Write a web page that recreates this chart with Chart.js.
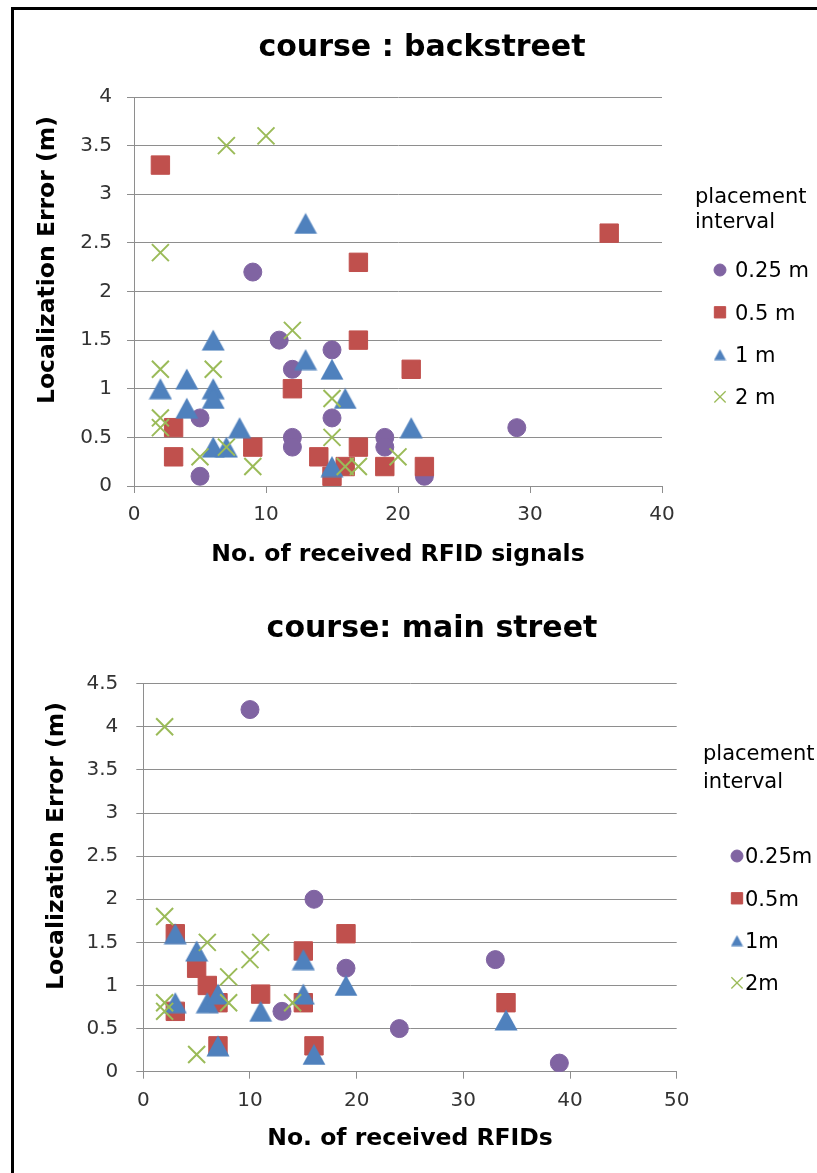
<!DOCTYPE html>
<html>
<head>
<meta charset="utf-8">
<script src="https://cdn.jsdelivr.net/npm/chart.js@4.4.1/dist/chart.umd.min.js"></script>
<style>
  html, body { margin: 0; padding: 0; background: #fff; }
  body { width: 817px; height: 1173px; position: relative; overflow: hidden; }
  #topChart { position: absolute; left: 0; top: 0; }
  #bottomChart { position: absolute; left: 0; top: 580px; }
  .frame { position: absolute; left: 11px; top: 7px; right: -10px; bottom: -10px;
           border-left: 3px solid #000; border-top: 3px solid #000; }
</style>
</head>
<body>
<canvas id="topChart" width="844" height="580"></canvas>
<canvas id="bottomChart" width="864" height="593"></canvas>
<div class="frame"></div>
<script>
// series labels
const seriesTop = ["0.25 m", "0.5 m", "1 m", "2 m"];
const seriesBottom = ["0.25m", "0.5m", "1m", "2m"];

// course : backstreet  (x = no. of received RFID signals, y = error in m)
const backX025 = [9, 5, 5, 11, 12, 12, 12, 15, 15, 19, 19, 29, 22];
const backY025 = [2.2, 0.7, 0.1, 1.5, 1.2, 0.5, 0.4, 1.4, 0.7, 0.5, 0.4, 0.6, 0.1];
const backX05 = [2, 17, 17, 12, 3, 3, 9, 14, 15, 16, 17, 19, 21, 36, 22];
const backY05 = [3.3, 2.3, 1.5, 1.0, 0.6, 0.3, 0.4, 0.3, 0.1, 0.2, 0.4, 0.2, 1.2, 2.6, 0.2];
const backX1 = [13, 6, 2, 4, 6, 6, 4, 8, 6, 7, 13, 15, 16, 15, 21];
const backY1 = [2.7, 1.5, 1.0, 1.1, 1.0, 0.9, 0.8, 0.6, 0.4, 0.4, 1.3, 1.2, 0.9, 0.2, 0.6];
const backX2 = [7, 10, 2, 12, 2, 6, 15, 2, 2, 5, 7, 9, 15, 16, 17, 20];
const backY2 = [3.5, 3.6, 2.4, 1.6, 1.2, 1.2, 0.9, 0.7, 0.6, 0.3, 0.4, 0.2, 0.5, 0.2, 0.2, 0.3];

// course: main street
const mainX025 = [10, 16, 19, 13, 24, 33, 39];
const mainY025 = [4.2, 2.0, 1.2, 0.7, 0.5, 1.3, 0.1];
const mainX05 = [3, 5, 6, 3, 7, 7, 11, 15, 15, 16, 19, 34];
const mainY05 = [1.6, 1.2, 1.0, 0.7, 0.8, 0.3, 0.9, 1.4, 0.8, 0.3, 1.6, 0.8];
const mainX1 = [3, 5, 6, 7, 3, 7, 11, 15, 15, 16, 19, 34];
const mainY1 = [1.6, 1.4, 0.8, 0.9, 0.8, 0.3, 0.7, 1.3, 0.9, 0.2, 1.0, 0.6];
const mainX2 = [2, 2, 6, 11, 10, 8, 8, 2, 2, 14, 5];
const mainY2 = [4.0, 1.8, 1.5, 1.5, 1.3, 1.1, 0.8, 0.8, 0.7, 0.8, 0.2];

// axis ticks
const backXTicks = { min: 0, max: 40, step: 10 };
const backYTicks = { min: 0, max: 4, step: 0.5 };
const mainXTicks = { min: 0, max: 50, step: 10 };
const mainYTicks = { min: 0, max: 4.5, step: 0.5 };

const colors = ['#8064A2', '#C0504D', '#4F81BD', '#9BBB59'];
const gridColor = '#8e8e8e';
const FONT = "'DejaVu Sans', sans-serif";

// excel style triangle: centred on its bounding box, about as tall as wide
function triangle(w, h, color) {
    const c = document.createElement('canvas');
    c.width = w; c.height = h;
    const g = c.getContext('2d');
    g.fillStyle = color;
    g.beginPath();
    g.moveTo(w / 2, 0.5);
    g.lineTo(w - 0.5, h - 0.5);
    g.lineTo(0.5, h - 0.5);
    g.closePath();
    g.fill();
    return c;
}

const styles = ['circle', 'rect', triangle(24, 22, colors[2]), 'crossRot'];
const legendStyles = ['circle', 'rect', triangle(13, 12, colors[2]), 'crossRot'];
const radii = [9, 13, 12, 12];
const legendRadii = [6, 8, 7, 8];

Chart.defaults.font.family = FONT;
Chart.defaults.color = '#333';

const pts = (xs, ys) => xs.map((x, i) => ({ x: x, y: ys[i] }));

function makeSets(labels, xs, ys) {
    return labels.map((label, i) => ({
        label: label,
        data: pts(xs[i], ys[i]),
        pointStyle: styles[i],
        pointRadius: radii[i],
        pointHoverRadius: radii[i],
        backgroundColor: colors[i],
        borderColor: colors[i],
        pointBorderWidth: i == 3 ? 2 : 1,
        showLine: false,
        order: 4 - i
    }));
}

// legend on the right, with a two line title
const sideLegend = {
    id: 'sideLegend',
    afterDraw(chart, args, o) {
        const ctx = chart.ctx;
        ctx.save();
        ctx.font = "21px " + FONT;
        ctx.fillStyle = '#000';
        ctx.textAlign = 'left';
        ctx.textBaseline = 'alphabetic';
        o.title.forEach((t, i) => ctx.fillText(t, o.titleX, o.titleBase + i * o.titleStep));
        chart.data.datasets.forEach((ds, i) => {
            const y = o.rowY + i * o.rowStep;
            ctx.fillStyle = ds.backgroundColor;
            ctx.strokeStyle = ds.borderColor;
            ctx.lineWidth = i == 3 ? 1.3 : 1;
            Chart.helpers.drawPoint(ctx, {
                pointStyle: legendStyles[i], radius: legendRadii[i], rotation: 0,
                borderWidth: i == 3 ? 1.3 : 1
            }, o.markerX, y);
            ctx.fillStyle = '#000';
            ctx.textBaseline = 'middle';
            ctx.fillText(ds.label, o.textX, y + 2);
        });
        ctx.restore();
    }
};

// chart title and rotated y axis title, placed where the original has them
const freeText = {
    id: 'freeText',
    afterDraw(chart, args, o) {
        const ctx = chart.ctx;
        o.items.forEach(t => {
            ctx.save();
            ctx.translate(t.x, t.y);
            if (t.rotate) ctx.rotate(t.rotate);
            ctx.font = t.font;
            ctx.fillStyle = '#000';
            ctx.textAlign = 'center';
            ctx.textBaseline = 'middle';
            ctx.fillText(t.text, 0, 0);
            ctx.restore();
        });
    }
};

function makeConfig(p) {
    return {
        type: 'scatter',
        data: { datasets: p.datasets },
        plugins: [sideLegend, freeText],
        options: {
            responsive: false,
            animation: false,
            layout: { padding: { left: 0, top: p.padTop, right: p.padRight, bottom: 0 } },
            plugins: {
                legend: { display: false },
                tooltip: { enabled: false },
                title: { display: false },
                sideLegend: p.legend,
                freeText: { items: [
                    { text: p.title, x: p.titleX, y: p.titleY, font: "bold 30px " + FONT },
                    { text: 'Localization Error (m)', x: p.yTitleX, y: p.yTitleY,
                      font: "bold 23.5px " + FONT, rotate: -Math.PI / 2 }
                ] }
            },
            scales: {
                x: {
                    type: 'linear',
                    min: p.xTicks.min, max: p.xTicks.max,
                    afterFit: s => { s.height = p.xHeight; },
                    ticks: { stepSize: p.xTicks.step, font: { size: 20 }, padding: p.xTickPad, color: '#333' },
                    grid: { drawOnChartArea: false, drawTicks: true, tickLength: 7, color: gridColor },
                    border: { color: gridColor },
                    title: {
                        display: true, text: p.xTitle, color: '#000',
                        font: { size: 23.5, weight: 'bold' },
                        padding: { top: 0, bottom: p.xTitlePad }
                    }
                },
                y: {
                    type: 'linear',
                    min: p.yTicks.min, max: p.yTicks.max,
                    afterFit: s => { s.width = p.yWidth; },
                    ticks: {
                        stepSize: p.yTicks.step, font: { size: 20 }, padding: p.yTickPad, color: '#333',
                        callback: v => String(v)
                    },
                    grid: { drawTicks: true, tickLength: 7, color: gridColor },
                    border: { color: gridColor }
                }
            }
        }
    };
}

new Chart(document.getElementById('topChart').getContext('2d'), makeConfig({
    datasets: makeSets(seriesTop, [backX025, backX05, backX1, backX2], [backY025, backY05, backY1, backY2]),
    title: 'course : backstreet', titleX: 422, titleY: 48,
    padTop: 97, padRight: 182,
    xTicks: backXTicks, yTicks: backYTicks,
    xHeight: 94, xTickPad: 10, xTitle: 'No. of received RFID signals', xTitlePad: 11,
    yWidth: 134, yTickPad: 15,
    yTitleX: 48, yTitleY: 260,
    legend: { title: ['placement', 'interval'], titleX: 695, titleBase: 203, titleStep: 25,
              markerX: 720, textX: 735, rowY: 270, rowStep: 42.3 }
}));

new Chart(document.getElementById('bottomChart').getContext('2d'), makeConfig({
    datasets: makeSets(seriesBottom, [mainX025, mainX05, mainX1, mainX2], [mainY025, mainY05, mainY1, mainY2]),
    title: 'course: main street', titleX: 432, titleY: 49,
    padTop: 103.7, padRight: 187.3,
    xTicks: mainXTicks, yTicks: mainYTicks,
    xHeight: 101.3, xTickPad: 10.5, xTitle: 'No. of received RFIDs', xTitlePad: 19.9,
    yWidth: 143.3, yTickPad: 18,
    yTitleX: 57, yTitleY: 266,
    legend: { title: ['placement', 'interval'], titleX: 703, titleBase: 180, titleStep: 28,
              markerX: 737, textX: 745, rowY: 276, rowStep: 42.3 }
}));
</script>
</body>
</html>
